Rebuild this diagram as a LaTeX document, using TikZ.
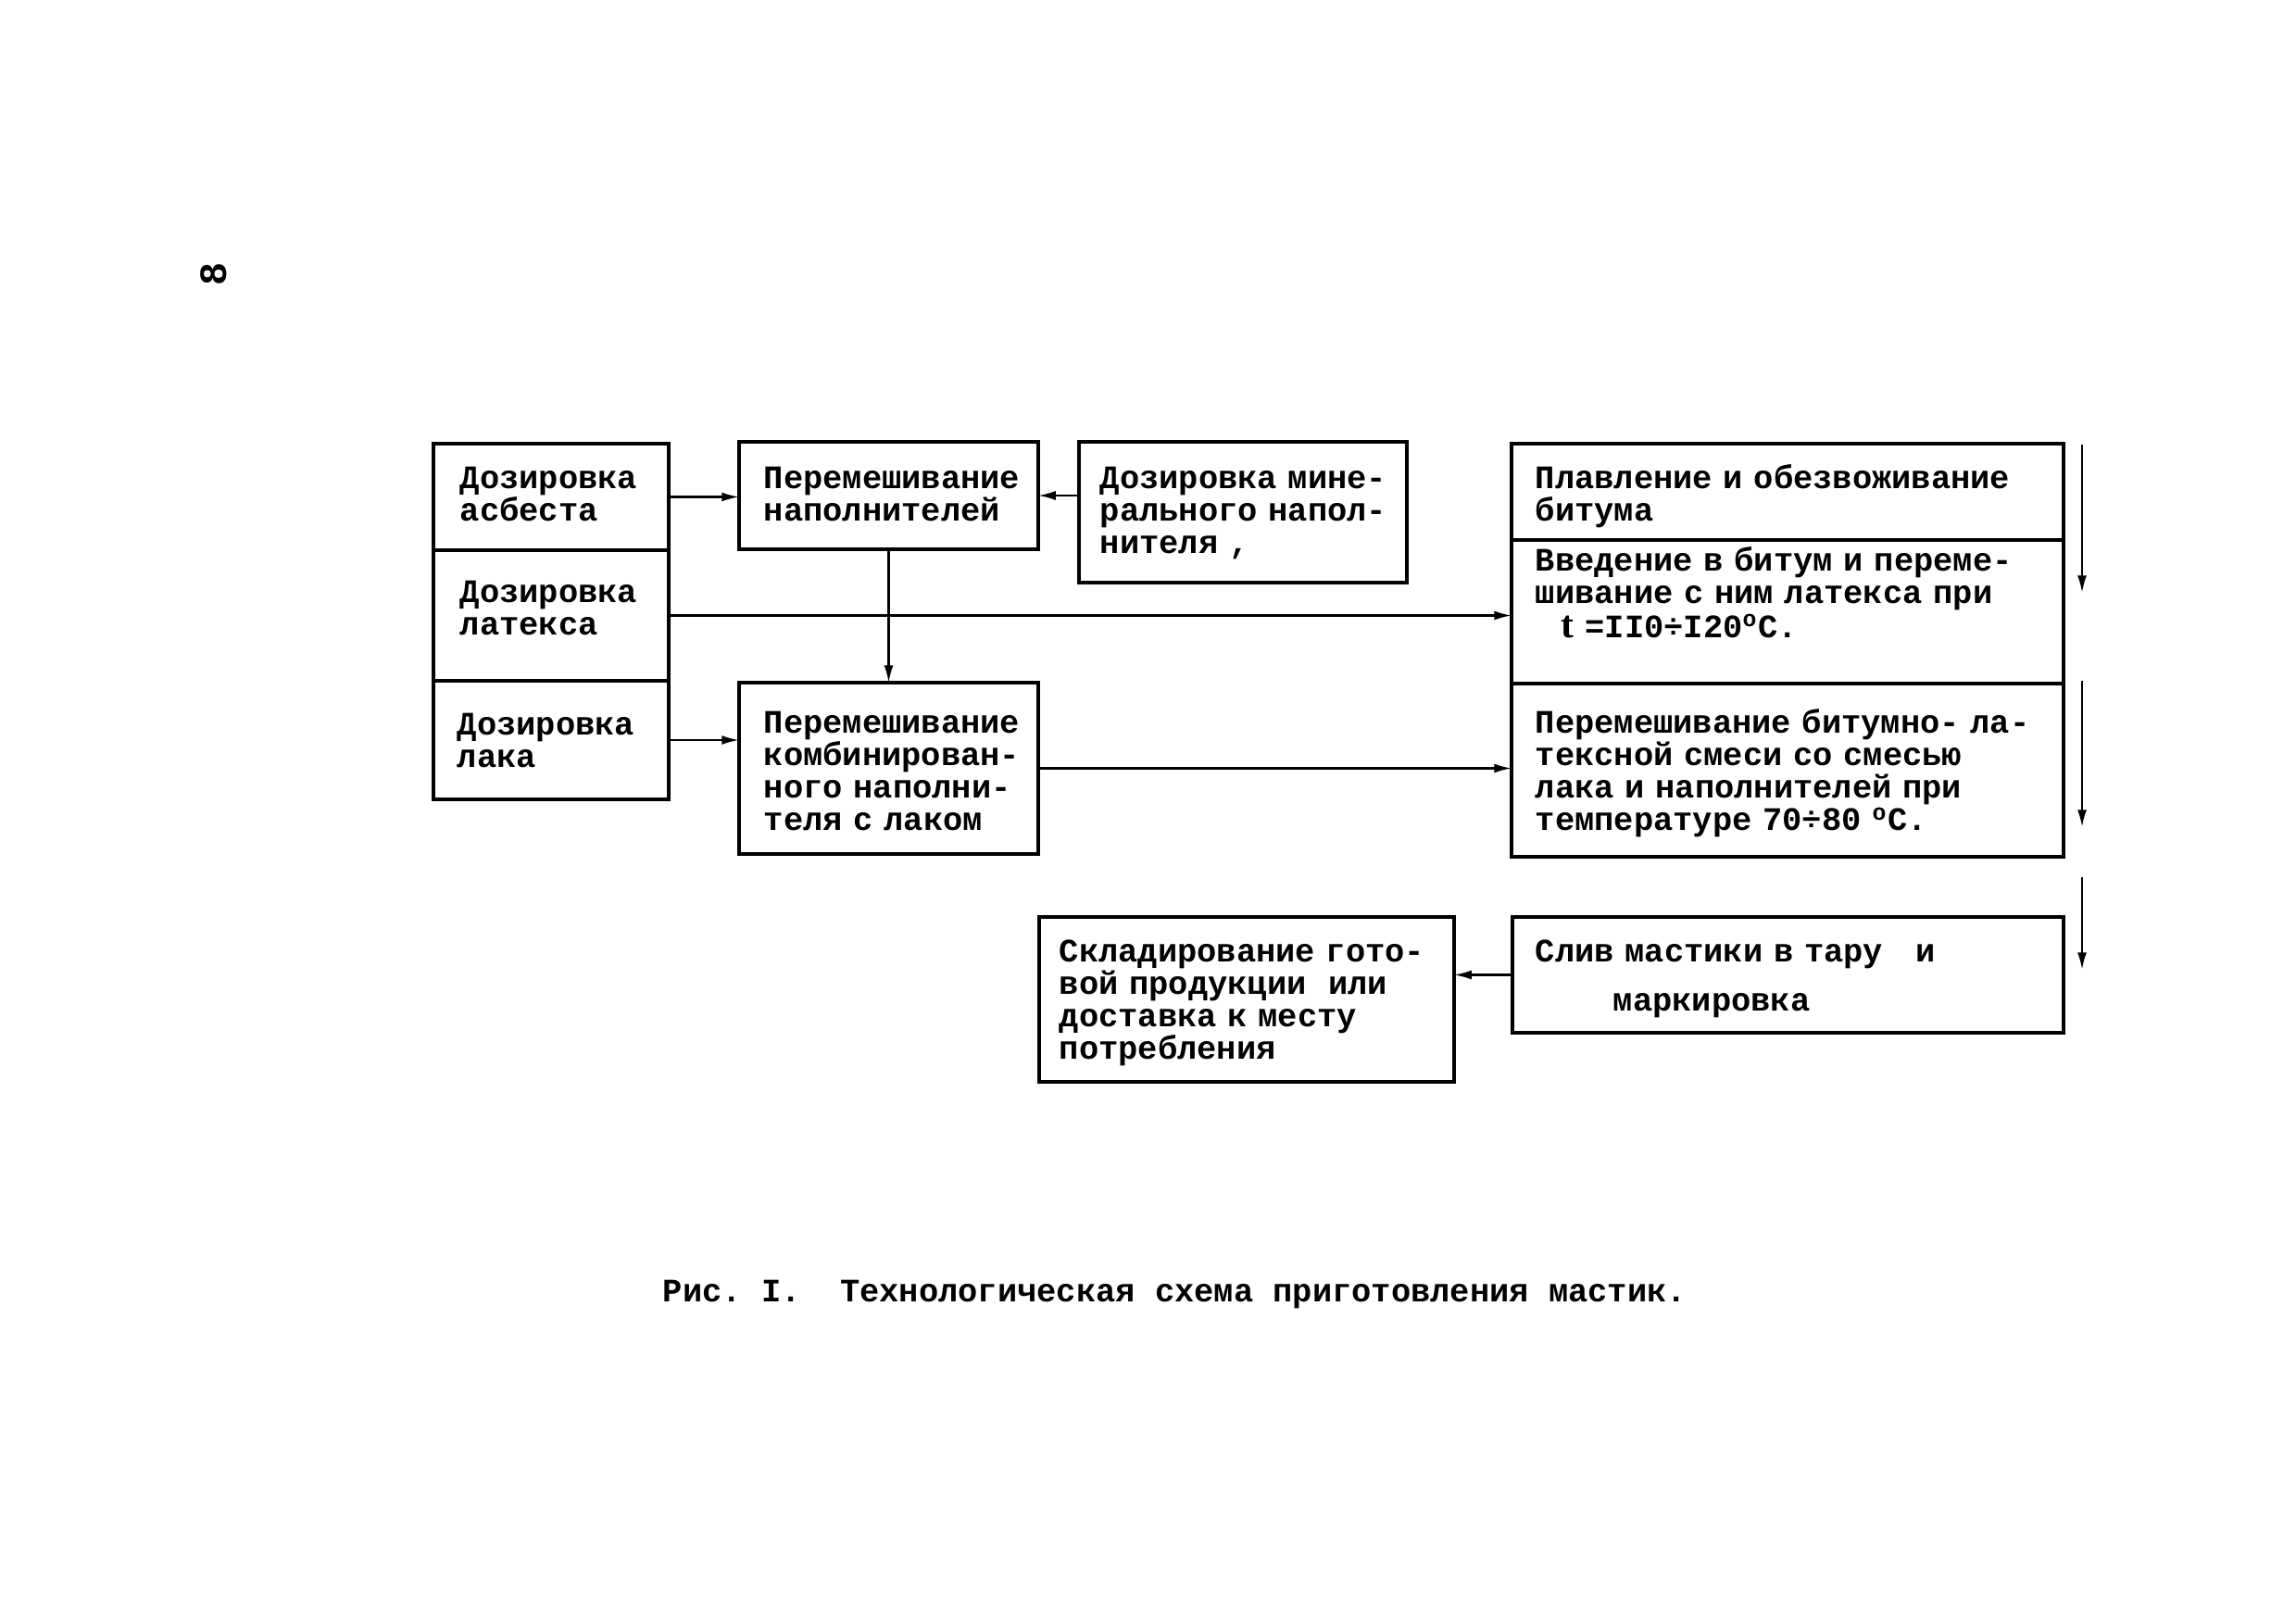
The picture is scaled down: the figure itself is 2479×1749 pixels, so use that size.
\documentclass[tikz,border=0pt]{standalone}
\usepackage{fontspec}
\setmainfont{Liberation Mono}
\newfontfamily\serifx{Liberation Serif}
\usetikzlibrary{arrows.meta,fit}
\begin{document}
\begin{tikzpicture}[x=0.24pt,y=-0.24pt,
  box/.style={draw,line width=0.9pt,inner sep=0pt,outer sep=0pt},
  txt/.style={anchor=base west,inner sep=0pt,text width=170pt,align=left,
    font=\fontsize{8.5}{8.47}\selectfont\bfseries\frenchspacing},
  con/.style={line width=0.55pt,-{Latex[length=4.5pt,width=2.4pt]}}]
\useasboundingbox (0,0) rectangle (2479,1749);

% page number
\node[rotate=90,inner sep=0pt,font=\fontsize{10}{10}\selectfont\bfseries] (pg) at (231,296) {8};

% left column
\node[box,fit={(468,479)(722,594)}] (L1) {};
\node[box,fit={(468,594)(722,735)}] (L2) {};
\node[box,fit={(468,735)(722,863)}] (L3) {};
\node[txt] (tL1) at (496,527) {Дозировка\\асбеста};
\node[txt] (tL2) at (496,650) {Дозировка\\латекса};
\node[txt] (tL3) at (493,793) {Дозировка\\лака};

% middle boxes
\node[box,fit={(798,477)(1121,593)}] (PN) {};
\node[txt] (tPN) at (824,527) {Перемешивание\\наполнителей};
\node[box,fit={(1165,477)(1519,629)}] (M) {};
\node[txt] (tM) at (1187,527) {Дозировка мине-\\рального напол-\\нителя ,};
\node[box,fit={(798,737)(1121,922)}] (K) {};
\node[txt] (tK) at (824,791) {Перемешивание\\комбинирован-\\ного наполни-\\теля с лаком};

% right column
\node[box,fit={(1632,479)(2228,583)}] (R1) {};
\node[box,fit={(1632,583)(2228,738)}] (R2) {};
\node[box,fit={(1632,738)(2228,925)}] (R3) {};
\node[txt] (tR1) at (1657,527) {Плавление и обезвоживание\\битума};
\node[txt] (tR2) at (1657,616) {Введение в битум и переме-\\шивание с ним латекса при};
\node[txt] (tR2b) at (1685,688) {{\serifx\fontsize{10}{10}\selectfont t} =II0÷I20\textsuperscript{o}C.};
\node[txt] (tR3) at (1657,791) {Перемешивание битумно- ла-\\тексной смеси со смесью\\лака и наполнителей при\\температуре 70÷80 \textsuperscript{o}C.};

% bottom boxes
\node[box,fit={(1633,990)(2228,1115)}] (S) {};
\node[txt] (tS1) at (1657,1038) {Слив мастики в тару~~~и};
\node[txt] (tS2) at (1741,1091) {маркировка};
\node[box,fit={(1122,990)(1570,1168)}] (Sk) {};
\node[txt] (tSk) at (1143,1038) {Складирование гото-\\вой продукции~~или\\доставка к месту\\потребления};

% connectors
\draw[con] (L1.east) -- (L1.east -| PN.west);
\draw[con] (M.west |- PN.east) -- (PN.east);
\draw[con] (PN.south) -- (PN.south |- K.north);
\draw[con] (L2.east) -- (L2.east -| R2.west);
\draw[con] (L3.east) -- (L3.east -| K.west);
\draw[con] (K.east) -- (K.east -| R3.west);
\draw[con] (S.west) -- (S.west -| Sk.east);

% right-side flow arrows
\coordinate (v1a) at (2248,480);
\coordinate (v1b) at (2248,640);
\coordinate (v2a) at (2248,735);
\coordinate (v2b) at (2248,893);
\coordinate (v3a) at (2248,947);
\coordinate (v3b) at (2248,1047);
\draw[con] (v1a) -- (v1b);
\draw[con] (v2a) -- (v2b);
\draw[con] (v3a) -- (v3b);

% caption
\node[anchor=base west,inner sep=0pt,font=\fontsize{8.5}{8.5}\selectfont\bfseries\frenchspacing] (cap) at (715,1405)
  {Рис. I.~~Технологическая схема приготовления мастик.};
\end{tikzpicture}
\end{document}
